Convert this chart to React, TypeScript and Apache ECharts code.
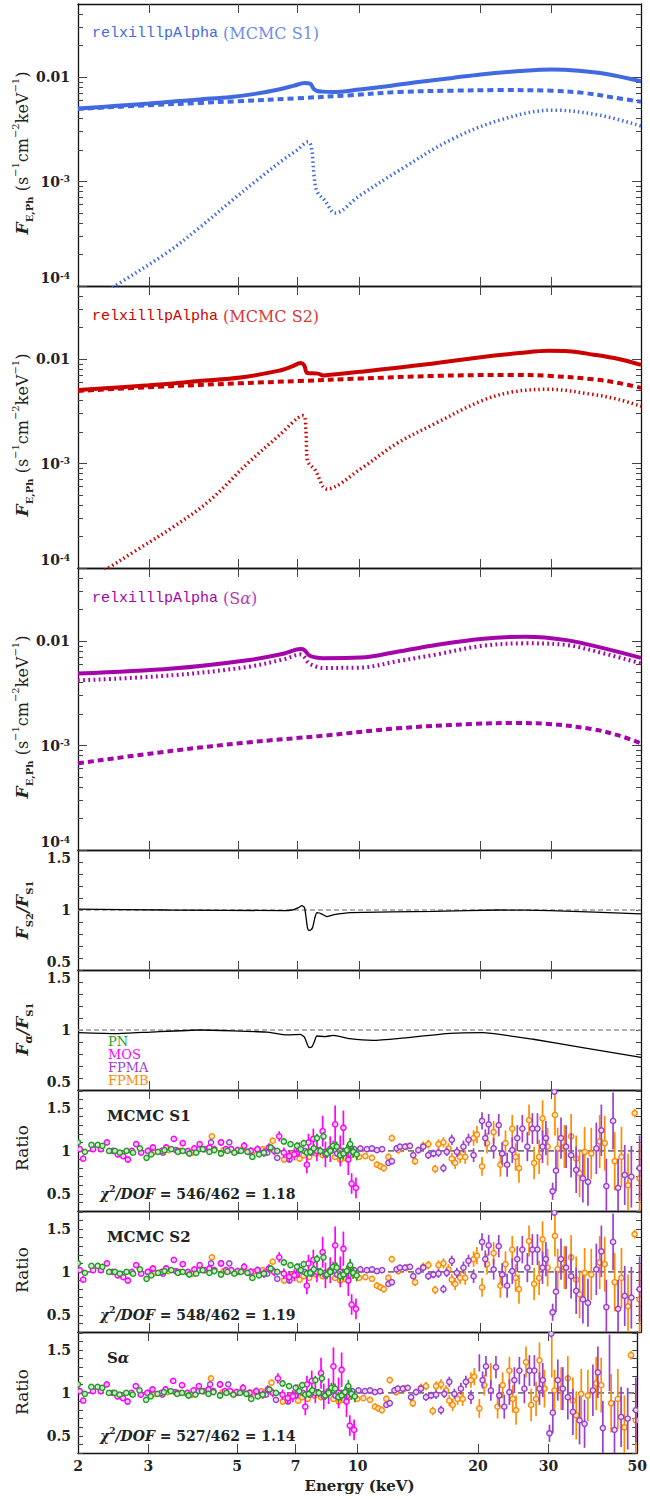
import React, { useEffect, useRef } from 'react';
import * as echarts from 'echarts';

// ---------------- tick values ----------------
const energyTicks = [3, 5, 7, 10, 20, 30];
const energyLabels = [2, 3, 5, 7, 10, 20, 30, 50];
const fluxMajor = [1e-4, 1e-3, 1e-2];
const fluxMinor = [2e-4, 3e-4, 4e-4, 5e-4, 6e-4, 7e-4, 8e-4, 9e-4, 2e-3, 3e-3, 4e-3, 5e-3, 6e-3, 7e-3, 8e-3, 9e-3, 2e-2, 3e-2, 4e-2];
const fracTicks = [0.5, 0.6, 0.7, 0.8, 0.9, 1.0, 1.1, 1.2, 1.3, 1.4, 1.5];
const fracLabels = [0.5, 1, 1.5];
const resTicks = [0.3, 0.4, 0.5, 0.6, 0.7, 0.8, 0.9, 1.0, 1.1, 1.2, 1.3, 1.4, 1.5, 1.6, 1.7];
const resLabels = [0.5, 1, 1.5];

// ---------------- model spectra [E keV, flux] ----------------
const s1Total = [[2.0, 5.0e-3], [2.5, 5.3e-3], [3.0, 5.57e-3], [3.5, 5.85e-3], [4.0, 6.1e-3], [4.8, 6.45e-3], [5.5, 6.9e-3], [6.3, 7.6e-3], [6.9, 8.3e-3], [7.3, 8.75e-3], [7.55, 8.6e-3], [7.7, 7.7e-3], [7.85, 7.35e-3], [8.1, 7.25e-3], [8.6, 7.2e-3], [10, 7.6e-3], [12, 8.25e-3], [14, 8.95e-3], [17, 9.8e-3], [20, 1.06e-2], [25, 1.14e-2], [30, 1.18e-2], [35, 1.15e-2], [41, 1.07e-2], [50, 9.1e-3]];
const s1Cont = [[2.0, 4.95e-3], [3.0, 5.37e-3], [4.0, 5.65e-3], [5.0, 5.87e-3], [7.0, 6.26e-3], [9.5, 6.7e-3], [12.6, 7.2e-3], [17, 7.4e-3], [22, 7.5e-3], [30, 7.4e-3], [36, 7.05e-3], [43, 6.35e-3], [50, 5.8e-3]];
const s1Refl = [[2.0, 6e-5], [2.47, 1e-4], [3.33, 2.09e-4], [4.0, 3.6e-4], [4.85, 6.7e-4], [5.6, 1.05e-3], [6.46, 1.61e-3], [7.0, 2.0e-3], [7.46, 2.4e-3], [7.6, 2.1e-3], [7.72, 1.1e-3], [7.85, 8.0e-4], [8.2, 6.6e-4], [8.7, 5.0e-4], [10, 7.3e-4], [12.6, 1.29e-3], [16.8, 2.49e-3], [22.3, 3.87e-3], [30.2, 4.82e-3], [39.6, 4.3e-3], [50, 3.4e-3]];

const s2Total = [[2.0, 5.05e-3], [3.0, 5.6e-3], [4.0, 6.15e-3], [5.06, 6.65e-3], [6.27, 7.7e-3], [6.8, 8.5e-3], [7.14, 9.15e-3], [7.29, 8.7e-3], [7.42, 7.35e-3], [7.9, 7.25e-3], [8.12, 6.95e-3], [8.35, 7.05e-3], [10, 7.54e-3], [14, 8.7e-3], [20, 1.04e-2], [25, 1.14e-2], [29.5, 1.2e-2], [33, 1.19e-2], [38.2, 1.1e-2], [44, 1.0e-2], [50, 8.8e-3]];
const s2Cont = [[2.0, 4.95e-3], [3.4, 5.5e-3], [5.0, 5.85e-3], [7.14, 6.17e-3], [10, 6.5e-3], [15.5, 6.9e-3], [23.9, 7.05e-3], [29.5, 6.9e-3], [38, 6.4e-3], [44, 5.9e-3], [50, 5.3e-3]];
const s2Refl = [[2.0, 6.5e-5], [2.38, 1e-4], [2.77, 1.45e-4], [3.43, 2.44e-4], [4.24, 4.4e-4], [5.27, 1.0e-3], [6.27, 1.81e-3], [7.25, 2.87e-3], [7.36, 2.1e-3], [7.42, 1.08e-3], [7.77, 8.6e-4], [8.3, 5.7e-4], [10.07, 8.9e-4], [12.4, 1.56e-3], [15.5, 2.44e-3], [20, 3.95e-3], [23.9, 4.83e-3], [29.5, 5.13e-3], [38, 4.58e-3], [44, 4.1e-3], [50, 3.53e-3]];

const saTotal = [[2.0, 4.88e-3], [3.43, 5.45e-3], [5.27, 6.55e-3], [6.5, 7.6e-3], [7.14, 8.37e-3], [7.3, 8.2e-3], [7.5, 7.3e-3], [7.8, 6.95e-3], [8.12, 6.85e-3], [10.07, 6.95e-3], [12.4, 7.9e-3], [15.5, 9.15e-3], [20, 1.045e-2], [25.8, 1.1e-2], [32.7, 1.02e-2], [40.5, 8.5e-3], [50, 6.9e-3]];
const saRefl = [[2.0, 4.2e-3], [3.43, 4.7e-3], [5.27, 5.65e-3], [6.5, 6.7e-3], [7.14, 7.43e-3], [7.3, 7.0e-3], [7.5, 6.1e-3], [8.12, 5.53e-3], [10.07, 5.57e-3], [12.4, 6.4e-3], [15.5, 7.43e-3], [20, 8.95e-3], [25.8, 9.5e-3], [32.7, 9.15e-3], [40.5, 7.6e-3], [50, 6.1e-3]];
const saCont = [[2.0, 6.76e-4], [3.43, 8.9e-4], [5.27, 1.07e-3], [8.12, 1.24e-3], [12.4, 1.46e-3], [19.1, 1.61e-3], [23.9, 1.64e-3], [29.5, 1.61e-3], [38, 1.43e-3], [44, 1.25e-3], [50, 1.05e-3]];

// ---------------- model ratios ----------------
const ratioS2 = [[2.0, 1.008], [3.33, 1.0], [6.47, 0.995], [6.8, 1.0], [7.05, 1.02], [7.2, 1.036], [7.3, 1.02], [7.36, 0.95], [7.42, 0.86], [7.48, 0.83], [7.58, 0.835], [7.66, 0.86], [7.74, 0.93], [7.83, 0.978], [7.95, 0.975], [8.07, 0.965], [8.3, 0.945], [8.6, 0.96], [9.5, 0.978], [15.3, 0.989], [22.3, 1.0], [29.8, 0.995], [50, 0.967]];
const ratioSa = [[2.0, 0.978], [2.49, 0.97], [3.03, 0.983], [4.02, 1.0], [5.88, 0.983], [6.6, 0.959], [7.12, 0.964], [7.3, 0.94], [7.42, 0.88], [7.5, 0.854], [7.62, 0.86], [7.72, 0.9], [7.83, 0.95], [8.2, 0.945], [8.6, 0.955], [9.45, 0.928], [10.8, 0.914], [12.6, 0.931], [16.8, 0.972], [20.2, 0.978], [27, 0.923], [35.8, 0.854], [50, 0.771]];
const unityLine = [[2, 1], [50, 1]];

// ---------------- data / model residual ratios ----------------
const pnE = [2.00, 2.08, 2.16, 2.24, 2.30, 2.39, 2.47, 2.54, 2.64, 2.74, 2.85, 2.96, 3.04, 3.16, 3.28, 3.41, 3.54, 3.64, 3.78, 3.93, 4.08, 4.24, 4.36, 4.53, 4.70, 4.89, 5.08, 5.27, 5.42, 5.63, 5.79, 6.02, 6.25, 6.49, 6.74, 7.00, 7.15, 7.27, 7.40, 7.55, 7.70, 7.84, 8.00, 8.14, 8.30, 8.46, 8.60, 8.78, 8.95, 9.12, 9.30, 9.48, 9.65, 9.84];
const pnR = [1.10, 0.99, 1.07, 1.07, 1.06, 1.00, 1.00, 0.98, 1.00, 0.98, 1.03, 0.92, 0.96, 0.99, 1.01, 1.02, 0.99, 1.00, 0.97, 0.98, 1.02, 0.99, 1.01, 0.97, 1.00, 0.98, 1.00, 0.99, 0.93, 0.96, 0.98, 1.04, 1.00, 1.11, 1.08, 1.06, 1.02, 1.09, 0.98, 0.99, 1.03, 1.15, 1.00, 1.17, 0.97, 1.00, 1.06, 1.05, 0.95, 0.97, 1.01, 1.08, 0.99, 0.96];
const pnErr = [0.03, 0.03, 0.03, 0.03, 0.03, 0.025, 0.025, 0.025, 0.025, 0.025, 0.025, 0.025, 0.025, 0.025, 0.025, 0.025, 0.025, 0.025, 0.025, 0.025, 0.025, 0.025, 0.025, 0.025, 0.025, 0.025, 0.025, 0.03, 0.03, 0.03, 0.03, 0.03, 0.03, 0.035, 0.035, 0.04, 0.04, 0.04, 0.045, 0.045, 0.05, 0.05, 0.05, 0.05, 0.055, 0.055, 0.06, 0.06, 0.06, 0.065, 0.065, 0.07, 0.07, 0.07];

const mosE = [2.02, 2.06, 2.18, 2.28, 2.36, 2.44, 2.51, 2.59, 2.66, 2.72, 2.79, 2.87, 2.98, 3.07, 3.23, 3.31, 3.46, 3.54, 3.64, 3.75, 3.89, 4.01, 4.12, 4.24, 4.36, 4.53, 4.66, 4.80, 4.98, 5.17, 5.37, 5.58, 5.79, 5.96, 6.14, 6.32, 6.49, 6.69, 6.89, 7.08, 7.40, 7.47, 7.68, 7.84, 8.10, 8.23, 8.46, 8.70, 8.96, 9.12, 9.38, 9.56, 9.80];
const mosR = [1.02, 0.91, 1.02, 1.02, 1.10, 1.00, 0.96, 0.94, 0.90, 1.00, 1.08, 0.98, 1.00, 1.04, 1.00, 1.04, 1.14, 1.00, 1.09, 1.00, 1.03, 1.08, 1.02, 1.04, 1.02, 1.10, 1.02, 1.02, 1.01, 1.06, 1.00, 1.02, 0.98, 1.04, 1.00, 1.17, 0.98, 0.94, 0.96, 1.02, 0.84, 1.10, 1.14, 1.00, 1.23, 0.96, 1.02, 1.31, 1.00, 1.27, 0.90, 0.62, 0.57];
const mosErr = [0.035, 0.035, 0.035, 0.035, 0.035, 0.035, 0.035, 0.035, 0.035, 0.035, 0.035, 0.035, 0.035, 0.035, 0.035, 0.035, 0.035, 0.035, 0.035, 0.035, 0.035, 0.035, 0.035, 0.04, 0.04, 0.04, 0.04, 0.04, 0.04, 0.045, 0.045, 0.045, 0.05, 0.05, 0.05, 0.06, 0.06, 0.07, 0.07, 0.08, 0.1, 0.1, 0.12, 0.12, 0.18, 0.15, 0.15, 0.22, 0.18, 0.2, 0.18, 0.12, 0.12];

const fpmaE = [3.0, 3.25, 3.5, 3.75, 4.0, 4.28, 4.53, 4.75, 5.0, 5.3, 5.6, 5.9, 6.25, 6.7, 7.0, 7.3, 7.6, 7.9, 8.2, 8.5, 8.8, 9.1, 9.4, 9.7, 10.05, 10.43, 10.74, 11.05, 11.38, 11.80, 12.03, 12.36, 12.60, 12.97, 13.34, 13.60, 14.00, 14.40, 14.82, 15.26, 15.71, 16.16, 16.47, 16.95, 17.45, 18.12, 18.65, 19.20, 20.15, 20.53, 20.93, 21.53, 22.17, 22.60, 23.26, 23.95, 24.65, 25.37, 26.11, 26.88, 27.66, 28.48, 29.03, 30.17, 30.46, 30.75, 31.65, 32.58, 33.53, 34.52, 35.87, 36.92, 38.73, 39.86, 41.02, 42.62, 43.86, 45.56, 47.32, 49.6];
const fpmaR = [1.00, 0.98, 1.01, 0.99, 1.02, 1.10, 1.10, 1.10, 1.00, 0.99, 1.01, 0.98, 0.92, 0.90, 0.97, 1.00, 0.98, 1.01, 0.99, 1.00, 0.97, 1.00, 0.96, 1.02, 1.03, 1.02, 1.03, 1.01, 1.02, 0.86, 0.88, 1.03, 1.05, 1.05, 1.06, 0.95, 1.01, 1.05, 0.95, 0.97, 0.98, 0.80, 0.99, 1.13, 0.99, 1.05, 1.13, 0.95, 1.35, 1.15, 1.31, 1.03, 1.30, 0.97, 0.84, 1.01, 1.15, 1.26, 1.05, 1.26, 1.26, 1.05, 1.15, 0.53, 1.69, 0.77, 1.15, 1.05, 0.95, 0.78, 0.68, 0.64, 1.03, 1.24, 0.59, 1.35, 0.57, 0.72, 0.70, 0.80];
const fpmaErr = [0.03, 0.03, 0.03, 0.03, 0.03, 0.03, 0.03, 0.03, 0.03, 0.03, 0.03, 0.03, 0.03, 0.03, 0.03, 0.03, 0.03, 0.03, 0.03, 0.03, 0.03, 0.03, 0.03, 0.03, 0.035, 0.035, 0.035, 0.035, 0.035, 0.035, 0.035, 0.035, 0.035, 0.035, 0.035, 0.04, 0.04, 0.04, 0.045, 0.045, 0.05, 0.05, 0.05, 0.06, 0.06, 0.07, 0.07, 0.08, 0.1, 0.1, 0.12, 0.12, 0.13, 0.13, 0.14, 0.15, 0.15, 0.16, 0.17, 0.18, 0.18, 0.19, 0.2, 0.1, 0.04, 0.24, 0.24, 0.25, 0.26, 0.27, 0.28, 0.28, 0.3, 0.3, 0.32, 0.33, 0.34, 0.35, 0.36, 0.38];

const fpmbE = [3.1, 3.35, 3.6, 3.85, 4.1, 4.3, 4.6, 4.9, 5.15, 5.45, 5.75, 6.09, 6.5, 6.8, 7.1, 7.27, 7.5, 7.8, 8.1, 8.4, 8.7, 8.96, 9.2, 9.5, 9.97, 10.34, 10.74, 11.05, 11.27, 11.49, 11.80, 12.03, 12.48, 13.09, 13.74, 14.40, 14.82, 15.41, 15.71, 16.16, 16.63, 16.95, 17.28, 17.78, 18.30, 19.20, 19.57, 20.15, 20.73, 21.53, 22.38, 23.04, 23.95, 24.41, 24.89, 26.36, 27.14, 27.93, 28.48, 29.31, 30.57, 31.05, 32.27, 33.53, 34.52, 35.20, 36.22, 37.62, 39.48, 40.63, 43.02, 44.71, 46.43, 48.22, 49.6];
const fpmbR = [0.99, 1.01, 1.00, 0.98, 1.02, 1.17, 1.01, 0.99, 1.03, 1.00, 1.02, 1.12, 0.90, 0.96, 0.91, 0.95, 0.93, 0.97, 0.95, 1.00, 0.93, 0.90, 0.92, 0.95, 0.93, 0.94, 0.92, 0.84, 0.82, 0.80, 0.93, 1.15, 1.01, 1.05, 0.88, 1.06, 1.08, 0.79, 1.08, 1.10, 1.03, 0.91, 0.86, 0.93, 0.93, 1.15, 1.19, 0.82, 1.09, 1.22, 0.84, 1.09, 1.26, 0.93, 0.80, 1.36, 0.86, 0.93, 1.38, 1.05, 1.42, 1.03, 1.05, 1.17, 0.91, 0.74, 0.99, 0.97, 1.11, 1.09, 0.88, 0.93, 0.60, 1.44, 0.68];
const fpmbErr = [0.03, 0.03, 0.03, 0.03, 0.03, 0.03, 0.03, 0.03, 0.03, 0.03, 0.03, 0.03, 0.03, 0.03, 0.035, 0.035, 0.035, 0.035, 0.035, 0.035, 0.035, 0.035, 0.035, 0.035, 0.035, 0.035, 0.035, 0.04, 0.04, 0.04, 0.04, 0.04, 0.04, 0.045, 0.045, 0.05, 0.05, 0.05, 0.055, 0.06, 0.06, 0.065, 0.07, 0.07, 0.08, 0.09, 0.1, 0.11, 0.12, 0.13, 0.14, 0.15, 0.16, 0.16, 0.17, 0.18, 0.19, 0.2, 0.21, 0.22, 0.24, 0.24, 0.25, 0.26, 0.27, 0.28, 0.29, 0.3, 0.31, 0.32, 0.34, 0.35, 0.37, 0.05, 0.4];

// ---------------- layout / style ----------------
const TOPS = [4, 286, 568, 850, 970, 1090, 1211, 1332];
const HEIGHTS = [282, 282, 282, 120, 120, 121, 121, 121];
const LEFT = 78;
const RIGHT = 9;
const FONT = '"DejaVu Serif", serif';
const MONO = '"Liberation Mono", "DejaVu Sans Mono", monospace';
const TXT = '#222';
const BLUE = '#4169E1';
const RED = '#CC0000';
const VIOLET = '#A404AA';
const C_PN = '#1E9E1E';
const C_MOS = '#FF00FF';
const C_FPMA = '#9B3FD2';
const C_FPMB = '#FF8C00';

const axisLineStyle = { color: '#111', width: 1.3 };
const tickStyle = { color: '#444', width: 1 };

const labelRich: any = {
  b: { fontFamily: FONT, fontWeight: 'bold', fontSize: 14, color: TXT, lineHeight: 14 },
  sup: { fontFamily: FONT, fontWeight: 'bold', fontSize: 9, color: TXT, lineHeight: 9, verticalAlign: 'top' },
  gap: { fontSize: 6, lineHeight: 16 },
};

function fluxFmt(v: number) {
  const e = Math.round(Math.log10(v));
  if (e === -2) return '{b|0.01}';
  if (e === -4) return '{b|10}{sup|-4}\n{gap| }';
  return '{b|10}{sup|' + e + '}';
}
function fracFmt(v: number) {
  if (Math.abs(v - 1.5) < 1e-6) return '{gap| }\n{b|1.5}';
  if (Math.abs(v - 0.5) < 1e-6) return '{b|0.5}\n{gap| }';
  return '{b|1}';
}
function resFmt(v: number) {
  if (Math.abs(v - 1) < 1e-6) return '{b|1}';
  return '{b|' + v + '}';
}

function buildOption() {
  const grid = TOPS.map((top, i) => ({ left: LEFT, right: RIGHT, top, height: HEIGHTS[i], show: false }));

  const xAxis: any[] = [];
  TOPS.forEach((_, i) => {
    const base = {
      type: 'log', logBase: 10, gridIndex: i, min: 2, max: 50,
      axisLine: { show: true, onZero: false, lineStyle: axisLineStyle },
      axisTick: { show: true, inside: true, length: 9, customValues: energyTicks, lineStyle: tickStyle },
      splitLine: { show: false }, minorTick: { show: false }, minorSplitLine: { show: false },
    };
    xAxis.push({
      ...base, position: 'bottom',
      axisLabel: i === 7
        ? { show: true, customValues: energyLabels, formatter: (v: number) => String(Math.round(v)), margin: 6, color: TXT, fontFamily: FONT, fontWeight: 'bold', fontSize: 14 }
        : { show: false },
    });
    xAxis.push({ ...base, position: 'top', axisLabel: { show: false } });
  });

  const yAxis: any[] = [];
  const mainY: number[] = [];
  for (let i = 0; i < 3; i++) {
    const base = { type: 'log', logBase: 10, gridIndex: i, min: 1e-4, max: 0.05, splitLine: { show: false }, minorTick: { show: false } };
    mainY.push(yAxis.length);
    yAxis.push({ ...base, position: 'left', axisLine: { show: true, onZero: false, lineStyle: axisLineStyle },
      axisTick: { show: true, inside: true, length: 9, customValues: fluxMajor, lineStyle: tickStyle },
      axisLabel: { show: true, customValues: fluxMajor, formatter: fluxFmt, margin: 8, rich: labelRich, color: TXT } });
    yAxis.push({ ...base, position: 'left', axisLine: { show: false },
      axisTick: { show: true, inside: true, length: 5, customValues: fluxMinor, lineStyle: tickStyle }, axisLabel: { show: false } });
    yAxis.push({ ...base, position: 'right', axisLine: { show: true, onZero: false, lineStyle: axisLineStyle },
      axisTick: { show: true, inside: true, length: 9, customValues: fluxMajor, lineStyle: tickStyle }, axisLabel: { show: false } });
    yAxis.push({ ...base, position: 'right', axisLine: { show: false },
      axisTick: { show: true, inside: true, length: 5, customValues: fluxMinor, lineStyle: tickStyle }, axisLabel: { show: false } });
  }
  for (let i = 3; i < 8; i++) {
    const isFrac = i < 5;
    const base = {
      type: 'value', gridIndex: i, min: isFrac ? 0.5 : 0.3, max: isFrac ? 1.5 : 1.71, splitLine: { show: false },
      axisLine: { show: true, onZero: false, lineStyle: axisLineStyle },
      axisTick: { show: true, inside: true, length: 5, customValues: isFrac ? fracTicks : resTicks, lineStyle: tickStyle },
    };
    mainY.push(yAxis.length);
    yAxis.push({ ...base, position: 'left',
      axisLabel: { show: true, customValues: isFrac ? fracLabels : resLabels, formatter: isFrac ? fracFmt : resFmt, margin: 7, rich: labelRich, color: TXT } });
    yAxis.push({ ...base, position: 'right', axisLabel: { show: false } });
  }

  const line = (data: any, i: number, color: string, width: number, type: any, z = 3) => ({
    type: 'line', xAxisIndex: 2 * i, yAxisIndex: mainY[i], data, symbol: 'none', showSymbol: false,
    smooth: 0.35, silent: true, z,
    lineStyle: { color, width, type, cap: 'butt' },
  });

  const errSeries = (E: number[], R: number[], S: number[], color: string, i: number) => ({
    type: 'custom', xAxisIndex: 2 * i, yAxisIndex: mainY[i], clip: true, silent: true, z: 4,
    data: E.map((e, k) => [e, R[k], S[k]]),
    encode: { x: 0, y: 1 },
    renderItem: (params: any, api: any) => {
      const e = api.value(0), r = api.value(1), s = api.value(2);
      const lo = api.coord([e, r - s]);
      const hi = api.coord([e, r + s]);
      const c = api.coord([e, r]);
      return {
        type: 'group',
        children: [
          { type: 'line', shape: { x1: lo[0], y1: lo[1], x2: hi[0], y2: hi[1] }, style: { stroke: color, lineWidth: 1.7 } },
          { type: 'circle', shape: { cx: c[0], cy: c[1], r: 2.6 }, style: { fill: 'rgba(255,255,255,0.75)', stroke: color, lineWidth: 1.5 } },
        ],
      };
    },
  });

  const dotted = [1.5, 3];
  const dashed = [6, 4];
  const series: any[] = [
    line(s1Total, 0, BLUE, 4, 'solid'),
    line(s1Cont, 0, BLUE, 4, dashed),
    line(s1Refl, 0, BLUE, 3.5, dotted),
    line(s2Total, 1, RED, 4, 'solid'),
    line(s2Cont, 1, RED, 4, dashed),
    line(s2Refl, 1, RED, 3.5, dotted),
    line(saTotal, 2, VIOLET, 4, 'solid'),
    line(saCont, 2, VIOLET, 4, dashed),
    line(saRefl, 2, VIOLET, 4, [1.8, 3.4]),
    { ...line(unityLine, 3, '#999', 1.3, [5, 3], 2), smooth: false },
    { ...line(ratioS2, 3, '#000', 1.3, 'solid'), smooth: 0.15 },
    { ...line(unityLine, 4, '#999', 1.3, [5, 3], 2), smooth: false },
    { ...line(ratioSa, 4, '#000', 1.3, 'solid'), smooth: 0.15 },
  ];
  for (let i = 5; i < 8; i++) {
    series.push({ ...line(unityLine, i, '#777', 1.8, [6, 4], 2), smooth: false });
    series.push(errSeries(fpmbE, fpmbR, fpmbErr, C_FPMB, i));
    series.push(errSeries(fpmaE, fpmaR, fpmaErr, C_FPMA, i));
    series.push(errSeries(mosE, mosR, mosErr, C_MOS, i));
    series.push(errSeries(pnE, pnR, pnErr, C_PN, i));
  }

  const titleRich: any = {
    fi: { fontFamily: FONT, fontStyle: 'italic', fontWeight: 'bold', fontSize: 17, lineHeight: 24, fill: TXT },
    fs: { fontFamily: FONT, fontStyle: 'italic', fontWeight: 'bold', fontSize: 17, lineHeight: 24, fill: TXT },
    sub: { fontFamily: FONT, fontWeight: 'bold', fontSize: 10, lineHeight: 10, verticalAlign: 'bottom', fill: TXT },
    subi: { fontFamily: FONT, fontStyle: 'italic', fontWeight: 'bold', fontSize: 11, lineHeight: 11, verticalAlign: 'bottom', fill: TXT },
    n: { fontFamily: FONT, fontSize: 16, lineHeight: 24, fill: TXT },
    sup: { fontFamily: FONT, fontSize: 10, lineHeight: 10, verticalAlign: 'top', fill: TXT },
    r: { fontFamily: FONT, fontSize: 17, lineHeight: 24, fill: TXT },
  };
  const fluxTitle = '{fi|F}{sub|E,Ph}{n| (s}{sup|−1}{n|cm}{sup|−2}{n|keV}{sup|−1}{n|)}';
  const vTitle = (text: string, y: number) => ({
    type: 'text', x: 22, y, rotation: Math.PI / 2, silent: true,
    style: { text, rich: titleRich, align: 'center', verticalAlign: 'middle', fill: TXT },
  });

  const modelLabel = (y: number, color: string, light: string, tag: string) => ({
    type: 'text', x: 92, y, silent: true,
    style: {
      text: '{m|relxilllpAlpha}' + tag, align: 'left', verticalAlign: 'middle',
      rich: {
        m: { fontFamily: MONO, fontSize: 15, fill: color, lineHeight: 20 },
        s: { fontFamily: FONT, fontSize: 16, fill: light, lineHeight: 20 },
        si: { fontFamily: FONT, fontStyle: 'italic', fontSize: 16, fill: light, lineHeight: 20 },
      },
    },
  });

  const resRich: any = {
    b: { fontFamily: FONT, fontWeight: 'bold', fontSize: 15, fill: TXT, lineHeight: 20 },
    bi: { fontFamily: FONT, fontWeight: 'bold', fontStyle: 'italic', fontSize: 15, fill: TXT, lineHeight: 20 },
    c: { fontFamily: FONT, fontWeight: 'bold', fontSize: 14, fill: TXT, lineHeight: 20 },
    ci: { fontFamily: FONT, fontWeight: 'bold', fontStyle: 'italic', fontSize: 14, fill: TXT, lineHeight: 20 },
    sup: { fontFamily: FONT, fontWeight: 'bold', fontSize: 9, fill: TXT, lineHeight: 9, verticalAlign: 'top' },
  };
  const resText = (x: number, y: number, text: string) => ({
    type: 'text', x, y, silent: true,
    style: { text, rich: resRich, align: 'left', verticalAlign: 'middle' },
  });
  const chi = (v: string) => '{ci|χ}{sup|2}{ci|/DOF}{c| = ' + v + '}';

  const legendItem = (y: number, text: string, color: string) => ({
    type: 'text', x: 108, y, silent: true,
    style: { text, fill: color, fontFamily: FONT, fontSize: 13, align: 'left', verticalAlign: 'middle' },
  });

  const graphic: any[] = [
    vTitle(fluxTitle, 153),
    vTitle(fluxTitle, 435),
    vTitle(fluxTitle, 717),
    vTitle('{fi|F}{sub|S2}{fs|/}{fi|F}{sub|S1}', 910),
    vTitle('{fi|F}{subi|α}{fs|/}{fi|F}{sub|S1}', 1029),
    vTitle('{r|Ratio}', 1148),
    vTitle('{r|Ratio}', 1270),
    vTitle('{r|Ratio}', 1392),
    modelLabel(33, BLUE, '#6E8DEB', '{s| (MCMC S1)}'),
    modelLabel(316, RED, '#D63A3A', '{s| (MCMC S2)}'),
    modelLabel(598, VIOLET, '#B440B8', '{s| (S}{si|α}{s|)}'),
    legendItem(1041, 'PN', C_PN),
    legendItem(1054, 'MOS', C_MOS),
    legendItem(1067, 'FPMA', C_FPMA),
    legendItem(1080, 'FPMB', C_FPMB),
    resText(107, 1116, '{b|MCMC S1}'),
    resText(100, 1194, chi('546/462 = 1.18')),
    resText(107, 1237, '{b|MCMC S2}'),
    resText(100, 1315, chi('548/462 = 1.19')),
    resText(107, 1358, '{b|S}{bi|α}'),
    resText(100, 1436, chi('527/462 = 1.14')),
    {
      type: 'text', x: 359.5, y: 1486, silent: true,
      style: { text: 'Energy (keV)', fill: TXT, fontFamily: FONT, fontWeight: 'bold', fontSize: 15, align: 'center', verticalAlign: 'middle' },
    },
  ];

  return {
    animation: false,
    backgroundColor: '#fff',
    grid, xAxis, yAxis, series, graphic,
  };
}

export default function App() {
  const ref = useRef<HTMLDivElement>(null);
  useEffect(() => {
    document.body.style.margin = '0';
    const chart = echarts.init(ref.current as HTMLDivElement, null, { renderer: 'svg' });
    chart.setOption(buildOption() as any);
    return () => chart.dispose();
  }, []);
  return <div ref={ref} style={{ width: 650, height: 1499 }} />;
}
